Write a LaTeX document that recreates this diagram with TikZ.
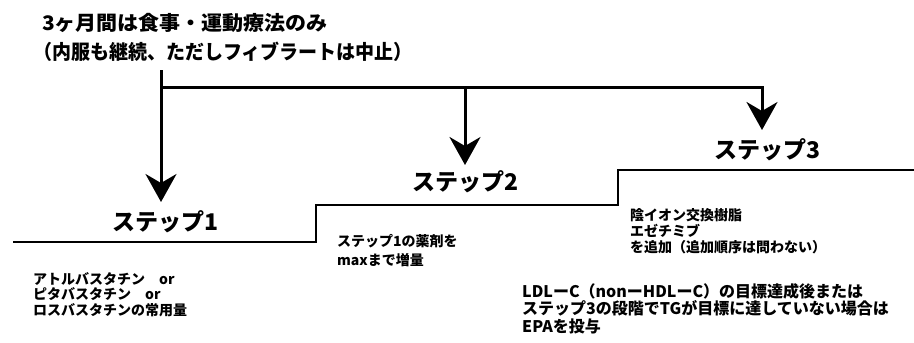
\documentclass[tikz,border=0pt]{standalone}
\usepackage{fontspec}
\setmainfont{Noto Sans CJK JP}
\usetikzlibrary{arrows.meta}
\tikzset{
  titletext/.style={anchor=west, inner sep=0pt, font=\fontsize{20}{29}\selectfont\bfseries},
  steplabel/.style={inner sep=0pt, font=\fontsize{23}{23}\selectfont\bfseries},
  note/.style={anchor=north west, inner sep=0pt, align=left, font=\fontsize{14}{15.5}\selectfont\bfseries},
  bignote/.style={anchor=north west, inner sep=0pt, align=left, font=\fontsize{16}{17.5}\selectfont\bfseries},
  bar/.style={line width=3pt},
  down/.style={bar, -{Stealth[length=28pt,width=31pt,inset=9pt]}},
  stair/.style={line width=2pt},
}
\begin{document}
\begin{tikzpicture}[x=1pt,y=-1pt]
\useasboundingbox (0,0) rectangle (914,343);
% title
\node[titletext] (t1) at (42,23) {\scalebox{1.05}[1]{3ヶ月間は食事・運動療法のみ}};
\node[titletext] (t2) at (33,52) {\scalebox{0.95}[1]{（内服も継続、ただしフィブラートは中止）}};
% step labels
\node[steplabel] (s1) at (166,222) {ステップ1};
\node[steplabel] (s2) at (466,182) {ステップ2};
\node[steplabel] (s3) at (767,150) {ステップ3};
% arrows
\coordinate (a0) at (161,70);
\coordinate (j1) at (161,87);
\coordinate (j2) at (465,87);
\coordinate (j3) at (762,87);
\coordinate (tip1) at (161,202);
\coordinate (tip2) at (465,165);
\coordinate (tip3) at (762,130);
\draw[down] (a0) -- (tip1);
\draw[bar] (j1) -- (j2);
\draw[down] (j2) -- (tip2);
\draw[down] (j2) -- (j3) -- (tip3);
% stairs
\coordinate (f0) at (13,242);
\coordinate (f1) at (316,242);
\coordinate (f2) at (316,205);
\coordinate (f3) at (618,205);
\coordinate (f4) at (618,170);
\coordinate (f5) at (914,170);
\draw[stair] (f0) -- (f1) -- (f2) -- (f3) -- (f4) -- (f5);
% notes
\node[note] (n1) at (33,272) {アトルバスタチン\quad or\\ピタバスタチン\quad or\\ロスバスタチンの常用量};
\node[note, font=\fontsize{14}{19}\selectfont\bfseries] (n2) at (337,234) {ステップ1の薬剤を\\maxまで増量};
\node[note, font=\fontsize{14}{16}\selectfont\bfseries] (n3) at (630,208) {陰イオン交換樹脂\\エゼチミブ\\を追加（追加順序は問わない）};
\node[bignote] (n4) at (522,283) {LDLーC（nonーHDLーC）の目標達成後または\\ステップ3の段階でTGが目標に達していない場合は\\EPAを投与};
\end{tikzpicture}
\end{document}
